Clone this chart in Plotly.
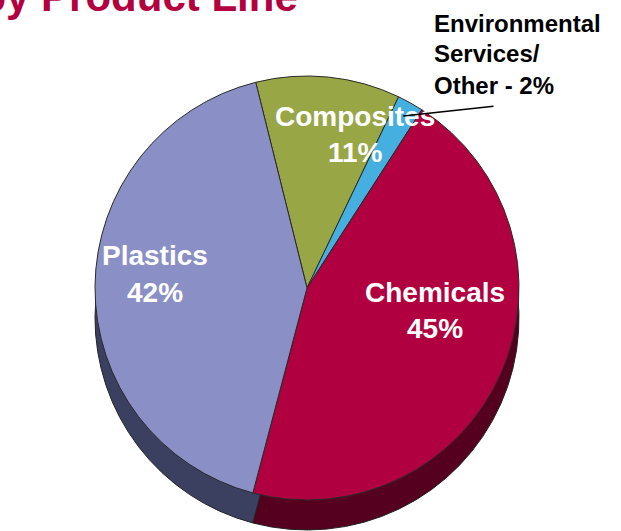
import math
import plotly.graph_objects as go

# Data
labels = ["Composites", "Environmental Services/Other", "Chemicals", "Plastics"]
values = [11, 2, 45, 42]
colors = ["#98a646", "#45b0e0", "#b1003f", "#8a90c6"]
side_colors = ["#4c5422", "#1f5c78", "#55001e", "#3c4060"]
title_text = "Sales by Product Line"

W, H = 621, 531
ROT = -14          # start angle of first slice (deg, clockwise from 12 o'clock)
R = 212            # pie radius px
CX, CY = 307, 288  # top pie centre px
DEPTH = 30         # pseudo-3D depth px


def dom(cx, cy, r):
    return dict(x=[(cx - r) / W, (cx + r) / W], y=[1 - (cy + r) / H, 1 - (cy - r) / H])


fig = go.Figure()
# side (depth) of the pie
fig.add_trace(go.Pie(
    labels=labels, values=values, sort=False, direction="clockwise", rotation=ROT,
    marker=dict(colors=side_colors, line=dict(color="#222222", width=1)),
    textinfo="none", hoverinfo="skip", showlegend=False,
    domain=dom(CX, CY + DEPTH, R),
))
# top face
fig.add_trace(go.Pie(
    labels=labels, values=values, sort=False, direction="clockwise", rotation=ROT,
    marker=dict(colors=colors, line=dict(color="#2a2a2a", width=1)),
    textinfo="none", showlegend=False,
    domain=dom(CX, CY, R),
))

FONT = "Liberation Sans, Arial, sans-serif"
ann = []


def txt(x, y, t, size, color, xanchor="center"):
    ann.append(dict(x=x / W, y=1 - y / H, xref="paper", yref="paper", text=f"<b>{t}</b>",
                    showarrow=False, xanchor=xanchor, yanchor="middle",
                    font=dict(family=FONT, size=size, color=color)))


# in-slice labels (name / percent)
label_pos = {"Composites": (355, 116), "Chemicals": (435, 292), "Plastics": (155, 256)}
for name, v in zip(labels, values):
    if name in label_pos:
        x, y = label_pos[name]
        txt(x, y, name, 28, "white")
        txt(x, y + 36, f"{v}%", 28, "white")

# outside label for the small slice
env_v = values[1]
for i, line in enumerate(["Environmental", "Services/", f"Other - {env_v}%"]):
    txt(432, 23 + 31 * i, line, 24, "black", xanchor="left")

# leader line pointing to the small slice
cum = sum(values[:1]) + values[1] / 2
ang = math.radians(ROT + 360 * cum / sum(values))
tx = CX + 0.93 * R * math.sin(ang)
ty = CY - 0.93 * R * math.cos(ang)
ann.append(dict(x=tx / W, y=1 - ty / H, xref="paper", yref="paper", showarrow=True,
                arrowhead=0, arrowwidth=1.5, arrowcolor="black",
                ax=495 - tx, ay=106 - ty, text=""))

# title (partially cut off at the top like the reference)
ann.append(dict(x=300 / W, y=1 - 22 / H, xref="paper", yref="paper", showarrow=False,
                xanchor="right", yanchor="bottom", text=f"<b>{title_text}</b>",
                font=dict(family=FONT, size=42, color="#b3003f")))

fig.update_layout(
    width=W, height=H, margin=dict(l=0, r=0, t=0, b=0),
    paper_bgcolor="white", plot_bgcolor="white",
    annotations=ann,
)
fig.write_html("out.html")
